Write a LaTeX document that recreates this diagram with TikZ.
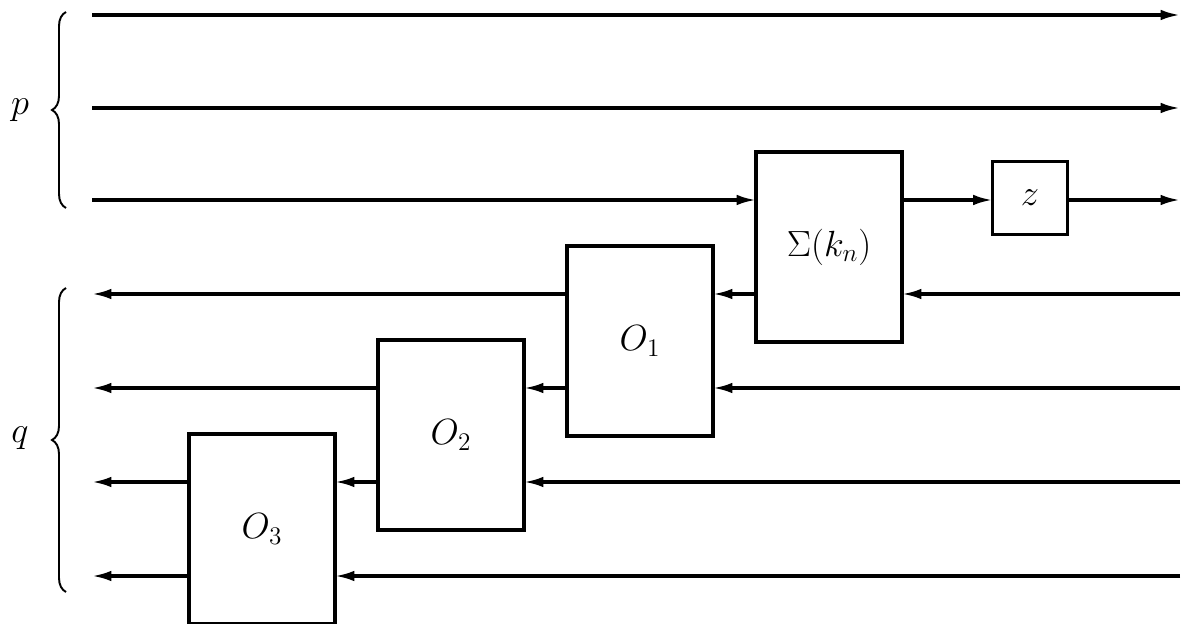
\documentclass[tikz,border=0pt]{standalone}
\usepackage{amsmath}
\usepackage{tikz}
\usetikzlibrary{positioning, calc, arrows.meta, decorations.pathreplacing}
\tikzstyle{Arrow} = [
    line width = 1.8pt,
    -{Latex[length=11pt, width=6pt]}
]

\begin{document}
\begin{tikzpicture}[
x=0.02cm, y=-0.02cm,
block/.style={
    draw,
    line width = 1.8pt,
    minimum width = 2.92cm,
    minimum height = 3.8cm,
    inner sep = 0pt,
    outer sep = 0pt,
    font = \huge
    },
brace/.style={
    decorate,
    line width = 1.1pt,
    decoration={brace, amplitude = 0.28cm}
    }
]
\useasboundingbox (0,0) rectangle (1189,624);

% blocks
\node [block] (Sig) at (829,247) {$\Sigma(k_n)$};
\node [block, minimum width = 1.5cm, minimum height = 1.46cm] (z) at (1030,198) {$z$};
\node [block] (O1) at (640,341) {$O_1$};
\node [block] (O2) at (451,435) {$O_2$};
\node [block] (O3) at (262,529) {$O_3$};

% ends of the lines
\coordinate (pL1) at (92,15);
\coordinate (pR1) at (1180,15);
\coordinate (pL2) at (92,108);
\coordinate (pR2) at (1180,108);
\coordinate (pL3) at (92,200);
\coordinate (pR3) at (1180,200);
\coordinate (qL1) at (92,294);
\coordinate (qR1) at (1180,294);
\coordinate (qL2) at (92,388);
\coordinate (qR2) at (1180,388);
\coordinate (qL3) at (92,482);
\coordinate (qR3) at (1180,482);
\coordinate (qL4) at (92,576);
\coordinate (qR4) at (1180,576);

% p lines
\draw[Arrow] (pL1) -- (pR1);
\draw[Arrow] (pL2) -- (pR2);
\draw[Arrow] (pL3) -- (pL3 -| Sig.west);
\draw[Arrow] (Sig.east |- pL3) -- (z.west |- pL3);
\draw[Arrow] (z.east |- pR3) -- (pR3);

% q lines
\draw[Arrow] (qR1) -- (qR1 -| Sig.east);
\draw[Arrow] (Sig.west |- qR1) -- (O1.east |- qR1);
\draw[Arrow] (O1.west |- qL1) -- (qL1);

\draw[Arrow] (qR2) -- (qR2 -| O1.east);
\draw[Arrow] (O1.west |- qR2) -- (O2.east |- qR2);
\draw[Arrow] (O2.west |- qL2) -- (qL2);

\draw[Arrow] (qR3) -- (qR3 -| O2.east);
\draw[Arrow] (O2.west |- qR3) -- (O3.east |- qR3);
\draw[Arrow] (O3.west |- qL3) -- (qL3);

\draw[Arrow] (qR4) -- (qR4 -| O3.east);
\draw[Arrow] (O3.west |- qL4) -- (qL4);

% braces
\draw[brace] (66,208) -- (66,12);
\draw[brace] (66,592) -- (66,288);
\node [font = \huge] (p) at (20,110) {$p$};
\node [font = \huge] (q) at (20,438) {$q$};

\end{tikzpicture}
\end{document}
